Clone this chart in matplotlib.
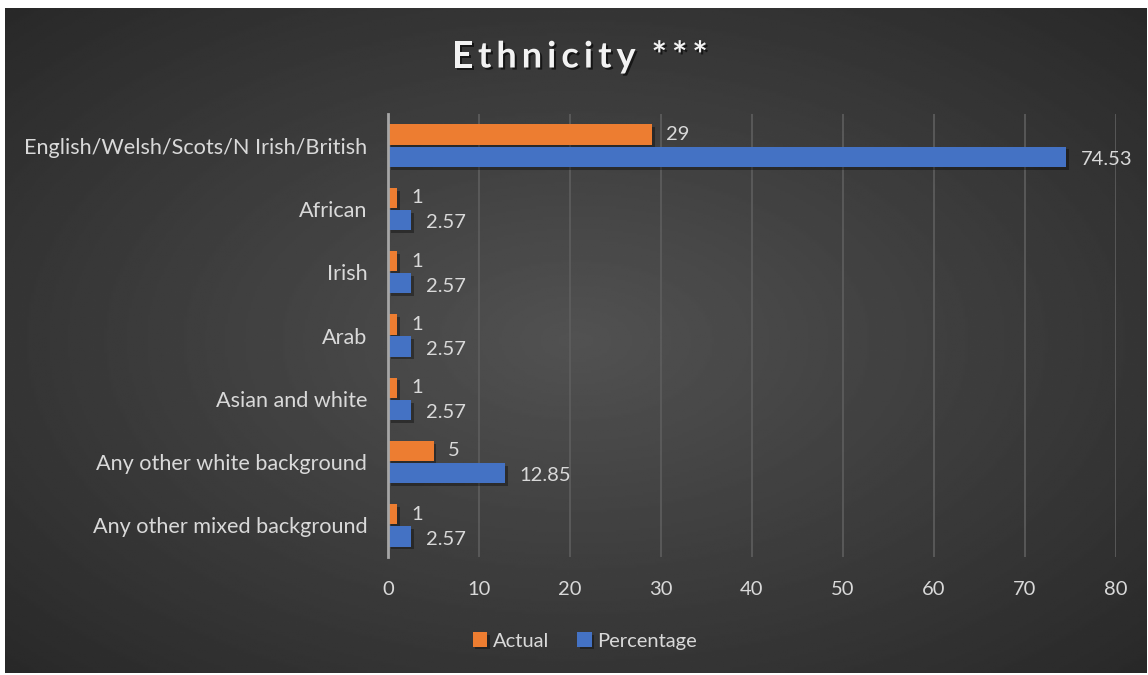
import numpy as np
import matplotlib
matplotlib.use("Agg")
from matplotlib import pyplot as plt
from matplotlib import patheffects as pe

categories = ["English/Welsh/Scots/N Irish/British", "African", "Irish", "Arab",
              "Asian and white", "Any other white background", "Any other mixed background"]
actual = [29, 1, 1, 1, 1, 5, 1]
percentage = [74.53, 2.57, 2.57, 2.57, 2.57, 12.85, 2.57]
xticks = [0, 10, 20, 30, 40, 50, 60, 70, 80]
title = "Ethnicity ***"

plt.rcParams['font.family'] = ['Lato', 'DejaVu Sans']
txt = '#d9d9d9'
orange = '#ED7D31'
blue = '#4472C4'

fig = plt.figure(figsize=(11.48, 6.75), dpi=100)
fig.patch.set_facecolor('white')

# dark panel with a radial gradient
bg = fig.add_axes((5/1148, 1-673/675, 1142/1148, 665/675))
yy, xx = np.mgrid[0:1:300j, 0:1:500j]
r = np.sqrt(((xx-0.5)/0.75)**2 + ((yy-0.5)/0.75)**2)
shade = 0.32 - 0.17*np.clip(r, 0, 1)
bg.imshow(shade, cmap='gray', vmin=0, vmax=1, aspect='auto', extent=(0, 1, 0, 1))
bg.set_axis_off()

ax = fig.add_axes((388/1148, 1-557/675, 728/1148, 443/675))
ax.patch.set_alpha(0)

y = np.arange(len(categories))
h = 0.32
shadow = [pe.SimplePatchShadow(offset=(2, -2), shadow_rgbFace='black', alpha=0.35), pe.Normal()]
b1 = ax.barh(y - h/2 - 0.015, actual, height=h, color=orange, label='Actual', zorder=3)
b2 = ax.barh(y + h/2 + 0.015, percentage, height=h, color=blue, label='Percentage', zorder=3)
for b in list(b1) + list(b2):
    b.set_path_effects(shadow)

for i in range(len(categories)):
    ax.text(actual[i] + 1.6, y[i] - h/2 - 0.015, str(actual[i]), color=txt,
            fontsize=14.5, va='center', ha='left')
    ax.text(percentage[i] + 1.6, y[i] + h/2 + 0.06, "%.2f" % percentage[i], color=txt,
            fontsize=14.5, va='center', ha='left')

ax.set_xlim(0, 80)
ax.set_ylim(len(categories) - 0.5, -0.5)
ax.set_xticks(xticks)
ax.set_yticks(y)
ax.set_yticklabels(categories)
ax.tick_params(axis='both', length=0, colors=txt)
ax.tick_params(axis='x', pad=17, labelsize=14.5)
ax.tick_params(axis='y', pad=15, labelsize=15.6)
ax.grid(axis='x', color='#5e5e5e', lw=1.2, zorder=0)
for s in ['top', 'right', 'bottom']:
    ax.spines[s].set_visible(False)
ax.spines['left'].set_color('#a6a6a6')
ax.spines['left'].set_linewidth(2)
ax.spines['left'].set_zorder(4)

leg = fig.legend(loc='center', bbox_to_anchor=(585/1148, 1-641/675), ncol=2, frameon=False,
                 fontsize=14.5, handlelength=0.7, handleheight=0.7, handletextpad=0.3,
                 columnspacing=1.4)
for t in leg.get_texts():
    t.set_color(txt)

# title with letter spacing, placed character by character
renderer = fig.canvas.get_renderer()
tshadow = [pe.withSimplePatchShadow(offset=(1.5, -1.5), shadow_rgbFace='black', alpha=0.6)]
spacing = 5
widths = []
for ch in title:
    t = fig.text(0, 0, ch if ch != ' ' else 'n', fontsize=26, fontweight='bold')
    widths.append(t.get_window_extent(renderer).width * (0.3 if ch == ' ' else 1))
    t.remove()
total = sum(widths) + spacing * (len(title) - 1)
x0 = 580 - total / 2
for ch, w in zip(title, widths):
    if ch != ' ':
        fig.text(x0/1148, 1-57/675, ch, ha='left', va='center', color='#f2f2f2',
                 fontsize=26, fontweight='bold', path_effects=tshadow)
    x0 += w + spacing

fig.savefig('out.png', dpi=100, facecolor=fig.get_facecolor())
